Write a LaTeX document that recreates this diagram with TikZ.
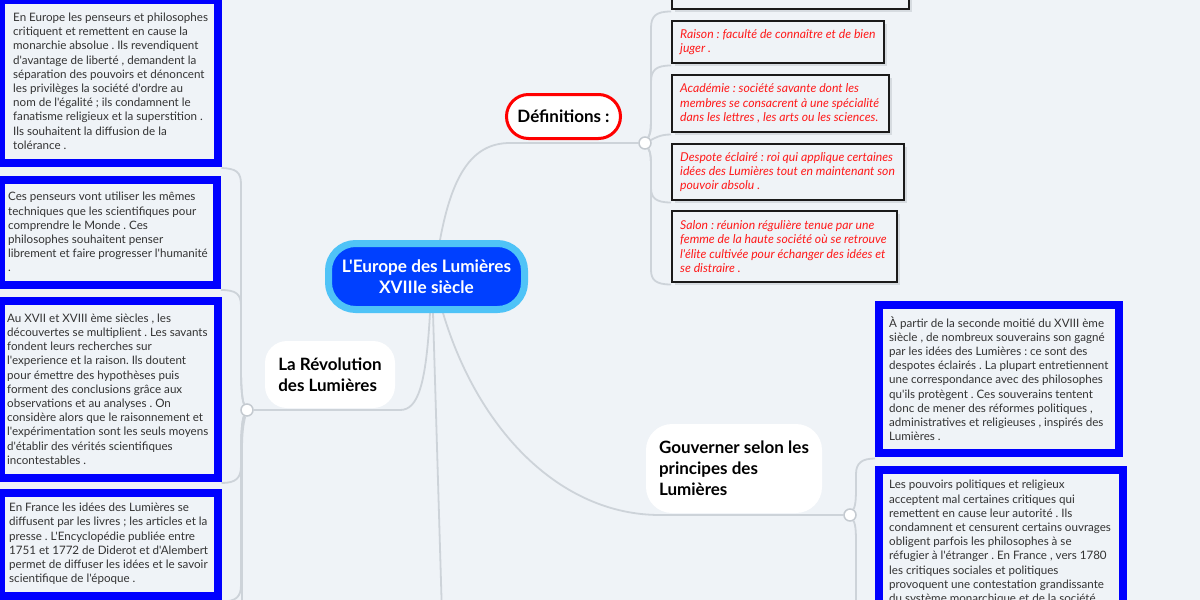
\documentclass[tikz,border=0pt]{standalone}
\usepackage{fontspec}
\setmainfont{Lato}[Ligatures=TeXOff]
\usetikzlibrary{shadows}
\frenchspacing
\definecolor{bgc}{HTML}{EFF3F7}
\definecolor{boxblue}{HTML}{0000FF}
\definecolor{txt}{HTML}{333333}
\definecolor{deftxt}{HTML}{FF1A1A}
\definecolor{defborder}{HTML}{1A1A1A}
\definecolor{shadowc}{HTML}{D6DBE0}
\definecolor{linec}{HTML}{CDD3D9}
\definecolor{juncc}{HTML}{C4CAD0}
\definecolor{cblue}{HTML}{0040FF}
\definecolor{clight}{HTML}{4FC3F7}
\definecolor{redb}{HTML}{FF0000}
\pgfdeclarelayer{bg}
\pgfsetlayers{bg,main}
\begin{document}
\frenchspacing
\begin{tikzpicture}[x=1pt,y=-1pt,
  bluebox/.style={draw=boxblue, line width=8pt, fill=bgc, inner sep=0pt,
    drop shadow={shadow xshift=2pt, shadow yshift=-2pt, fill=shadowc, opacity=1}},
  defbox/.style={draw=defborder, line width=2pt, fill=bgc, inner sep=0pt,
    drop shadow={shadow xshift=2.5pt, shadow yshift=-2.5pt, fill=shadowc, opacity=1}},
  bodytext/.style={align=left, inner sep=0pt, text=txt, font=\fontsize{11.6}{14.2}\selectfont\frenchspacing},
  deftext/.style={align=left, inner sep=0pt, text=deftxt, font=\fontsize{12.2}{14.3}\selectfont\itshape\frenchspacing},
  topic/.style={fill=white, rounded corners=22pt, inner sep=0pt, align=left,
    font=\fontsize{17}{21}\selectfont\bfseries},
  conn/.style={draw=linec, line width=1.8pt},
  junc/.style={circle, draw=juncc, fill=white, line width=1.5pt, minimum size=12pt, inner sep=0pt}]
\useasboundingbox (0,0) rectangle (1200,600);
\begin{pgfonlayer}{bg}
\fill[bgc] (0,0) rectangle (1200,600);
\end{pgfonlayer}

% ---------- central node ----------
\node[fill=cblue, draw=clight, line width=7pt, rounded corners=27pt, minimum width=196pt,
  minimum height=66pt, text=white, align=center, inner sep=0pt,
  font=\fontsize{17.2}{21}\selectfont\bfseries] (c) at (426.5,276.5) {L'Europe des Lumières\\XVIIIe siècle};

% ---------- main topics ----------
\node[fill=white, draw=redb, line width=3pt, rounded corners=22pt, minimum width=114pt,
  minimum height=44pt, inner sep=0pt, font=\fontsize{17}{21}\selectfont\bfseries] (def) at (563.5,116.5) {Définitions :};
\node[topic, minimum width=130pt, minimum height=67pt] (rev) at (330,374.5) {La Révolution\\des Lumières};
\node[topic, minimum width=176pt, minimum height=89pt, rounded corners=26pt] (gov) at (734,468.5) {Gouverner selon les\\principes des\\Lumières};

% ---------- junctions ----------
\node[junc] (jL) at (247,410) {};
\node[junc] (jD) at (645,143) {};
\node[junc] (jG) at (850,515) {};

% ---------- left boxes ----------
\node[bluebox, minimum width=216.5pt, minimum height=162.5pt] (l1) at (109.25,81.25) {};
\node[bodytext, anchor=west] (l1t) at (13,81.25) {En Europe les penseurs et philosophes\\critiquent et remettent en cause la\\monarchie absolue . Ils revendiquent\\d'avantage de liberté , demandent la\\séparation des pouvoirs et dénoncent\\les privilèges la société d'ordre au\\nom de l'égalité ; ils condamnent le\\fanatisme religieux et la superstition .\\Ils souhaitent la diffusion de la\\tolérance .};

\node[bluebox, minimum width=216pt, minimum height=104.5pt] (l2) at (109,232.25) {};
\node[bodytext, anchor=west] (l2t) at (8,232.25) {Ces penseurs vont utiliser les mêmes\\techniques que les scientifiques pour\\comprendre le Monde . Ces\\philosophes souhaitent penser\\librement et faire progresser l'humanité\\.};

\node[bluebox, minimum width=216.5pt, minimum height=177pt] (l3) at (109.25,389) {};
\node[bodytext, anchor=west] (l3t) at (7,389) {Au XVII et XVIII ème siècles , les\\découvertes se multiplient . Les savants\\fondent leurs recherches sur\\l'experience et la raison. Ils doutent\\pour émettre des hypothèses puis\\forment des conclusions grâce aux\\observations et au analyses . On\\considère alors que le raisonnement et\\l'expérimentation sont les seuls moyens\\d'établir des vérités scientifiques\\incontestables .};

\node[bluebox, minimum width=216.5pt, minimum height=103pt] (l4) at (109.25,544.5) {};
\node[bodytext, anchor=west] (l4t) at (9,544) {En France les idées des Lumières se\\diffusent par les livres ; les articles et la\\presse . L'Encyclopédie publiée entre\\1751 et 1772 de Diderot et d'Alembert\\permet de diffuser les idées et le savoir\\scientifique de l'époque .};

% ---------- definitions ----------
\node[defbox, minimum width=237pt, minimum height=49pt] (dtop) at (790.5,-15.5) {};
\node[defbox, minimum width=212pt, minimum height=42pt] (draison) at (778,42) {};
\node[deftext, anchor=west] (draisont) at (680,42) {Raison : faculté de connaître et de bien\\juger .};
\node[defbox, minimum width=217pt, minimum height=57pt] (dacad) at (780.5,103.5) {};
\node[deftext, anchor=west] (dacadt) at (680,103.5) {Académie : société savante dont les\\membres se consacrent à une spécialité\\dans les lettres , les arts ou les sciences.};
\node[defbox, minimum width=232pt, minimum height=56pt] (ddesp) at (788,172) {};
\node[deftext, anchor=west] (ddespt) at (680,172) {Despote éclairé : roi qui applique certaines\\idées des Lumières tout en maintenant son\\pouvoir absolu .};
\node[defbox, minimum width=225pt, minimum height=71pt] (dsalon) at (784.5,246.5) {};
\node[deftext, anchor=west] (dsalont) at (680,246.5) {Salon : réunion régulière tenue par une\\femme de la haute société où se retrouve\\l'élite cultivée pour échanger des idées et\\se distraire .};

% ---------- right boxes ----------
\node[bluebox, minimum width=240pt, minimum height=148pt] (r1) at (999,379) {};
\node[bodytext, anchor=west] (r1t) at (889,378.5) {À partir de la seconde moitié du XVIII ème\\siècle , de nombreux souverains son gagné\\par les idées des Lumières : ce sont des\\despotes éclairés . La plupart entretiennent\\une correspondance avec des philosophes\\qu'ils protègent . Ces souverains tentent\\donc de mener des réformes politiques ,\\administratives et religieuses , inspirés des\\Lumières .};
\node[bluebox, minimum width=244pt, minimum height=149pt] (r2) at (1001,544.5) {};
\node[bodytext, anchor=west] (r2t) at (889,542.5) {Les pouvoirs politiques et religieux\\acceptent mal certaines critiques qui\\remettent en cause leur autorité . Ils\\condamnent et censurent certains ouvrages\\obligent parfois les philosophes à se\\réfugier à l'étranger . En France , vers 1780\\les critiques sociales et politiques\\provoquent une contestation grandissante\\du système monarchique et de la société};

\coordinate (cbot) at (442,615);
\coordinate (lbot) at (242,615);

% ---------- connectors ----------
\begin{pgfonlayer}{bg}
\draw[conn] ([xshift=13.5pt]c.north) .. controls (452,175) and (472,143) .. (510,143) -- (jD);
\draw[conn] ([xshift=3.5pt]c.south) .. controls (426,385) and (418,410) .. (400,410) -- (jL);
\draw[conn] ([xshift=6.5pt]c.south) -- (cbot);
\draw[conn] ([xshift=16.5pt]c.south) .. controls (478,430) and (560,515) .. (660,515) -- (jG);

\draw[conn] (jL) .. controls (242,400) and (241,385) .. (241,370) -- (241,184) .. controls (241,172) and (236,168.5) .. ([yshift=-1.5pt]l1.south east);
\draw[conn] (jL) .. controls (242,400) and (241,385) .. (241,370) -- (241,306) .. controls (241,294) and (236,290) .. ([yshift=-1.5pt]l2.south east);
\draw[conn] (jL) .. controls (242,420) and (241,435) .. (241,450) -- (241,466) .. controls (241,478) and (236,483) .. ([yshift=-1.5pt]l3.south east);
\draw[conn] (jL) .. controls (242,420) and (241,435) .. (241,450) -- (241,585) .. controls (241,597) and (236,601.5) .. ([yshift=-1.5pt]l4.south east);
\draw[conn] (jL) .. controls (243,425) and (242,435) .. (242,450) -- (lbot);

\draw[conn] (jD) .. controls (651,133) and (651,125) .. (651,115) -- (651,28) .. controls (651,16) and (656,11.5) .. ([yshift=-1.5pt]dtop.south west);
\draw[conn] (jD) .. controls (651,133) and (651,125) .. (651,115) -- (651,82) .. controls (651,70) and (656,65.5) .. ([yshift=-1.5pt]draison.south west);
\draw[conn] (jD) .. controls (655,138) and (660,134.5) .. ([yshift=-1.5pt]dacad.south west);
\draw[conn] (jD) .. controls (651,153) and (651,160) .. (651,170) -- (651,188) .. controls (651,198) and (656,202.5) .. ([yshift=-1.5pt]ddesp.south west);
\draw[conn] (jD) .. controls (651,153) and (651,160) .. (651,170) -- (651,270) .. controls (651,280) and (656,284.5) .. ([yshift=-1.5pt]dsalon.south west);

\draw[conn] (jG) .. controls (856,505) and (856,495) .. (856,485) -- (856,474) .. controls (856,463) and (862,458.5) .. ([yshift=-1.5pt]r1.south west);
\draw[conn] (jG) .. controls (856,525) and (856,535) .. (856,545) -- (856,605) .. controls (856,615) and (862,623) .. ([yshift=-1.5pt]r2.south west);
\end{pgfonlayer}
\end{tikzpicture}
\end{document}
